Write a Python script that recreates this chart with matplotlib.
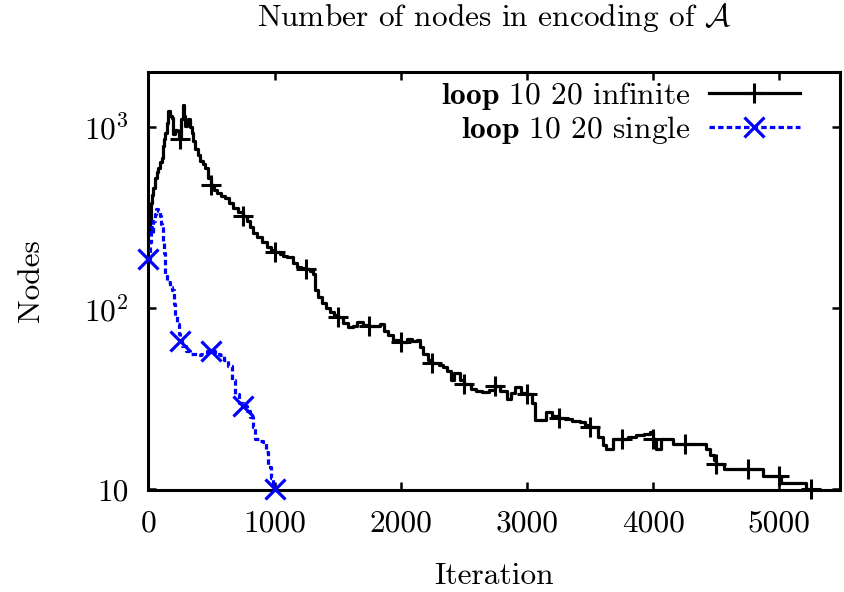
import matplotlib
matplotlib.use("Agg")
import matplotlib.pyplot as plt
import numpy as np

# ---------------- data ----------------
inf_iter = [0, 10, 20, 30, 40, 55, 65, 79, 90, 106, 115, 125, 132, 145, 158, 170, 185, 192, 198,
            210, 225, 240, 250, 260, 272, 280, 291, 305, 317, 330, 344, 355, 370, 390, 409, 430,
            449, 475, 500, 520, 541, 575, 607, 640, 673, 710, 750, 780, 805, 830, 858, 900, 937,
            970, 1000, 1040, 1069, 1100, 1122, 1150, 1175, 1210, 1250, 1280, 1307, 1320, 1345,
            1373, 1405, 1439, 1470, 1500, 1540, 1584, 1620, 1650, 1700, 1750, 1800, 1835, 1870,
            1901, 1940, 2000, 2046, 2090, 2125, 2150, 2177, 2215, 2250, 2300, 2336, 2370, 2402,
            2420, 2442, 2470, 2500, 2560, 2600, 2640, 2700, 2750, 2790, 2838, 2870, 2903, 2950,
            3000, 3040, 3062, 3120, 3154, 3200, 3250, 3300, 3360, 3418, 3460, 3500, 3560, 3600,
            3629, 3682, 3750, 3800, 3867, 3930, 3973, 4000, 4025, 4060, 4120, 4157, 4250, 4330,
            4421, 4450, 4480, 4500, 4560, 4750, 4870, 5000, 5010, 5213, 5250]
inf_nodes = [260, 300, 380, 420, 461, 520, 560, 594, 640, 674, 780, 860, 925, 1050, 1216, 1150,
             1117, 1000, 906, 960, 944, 880, 851, 1100, 1324, 1150, 1007, 1060, 1098, 1000, 925,
             830, 750, 700, 645, 620, 594, 520, 477, 450, 433, 415, 406, 380, 358, 340, 322, 300,
             278, 260, 245, 230, 216, 208, 203, 198, 194, 192, 190, 178, 168, 166, 164, 160, 154,
             125, 115, 106, 100, 94.8, 91, 89, 83, 78.4, 80, 83.6, 81, 80, 80, 81.8, 75, 70.6,
             67, 65, 67.7, 66, 66.3, 61, 55.9, 52, 50, 48.5, 47.3, 45, 40, 43.6, 43.6, 40, 38,
             36, 35, 34.5, 35.5, 37, 35, 31.7, 34, 36.7, 34, 33.8, 30, 24.1, 24.1, 26.8, 25.5,
             24.9, 24.5, 24, 23.6, 22.8, 22, 19.5, 17.5, 16.8, 18.9, 18.9, 19.5, 19.9, 20.3,
             20.8, 18.9, 16.8, 18.9, 18.9, 17.9, 17.9, 17.9, 16.8, 15.5, 14.5, 13.9, 12.9, 12.9,
             11.9, 11.9, 10.8, 10, 10]

single_iter = [0, 10, 20, 30, 40, 50, 61, 75, 90, 100, 106, 115, 119, 125, 132, 150, 170, 185,
               200, 215, 225, 240, 250, 270, 300, 330, 383, 420, 462, 500, 530, 567, 600, 633,
               660, 686, 720, 750, 780, 805, 830, 845, 880, 911, 930, 950, 970, 990, 1000]
single_nodes = [187, 230, 280, 260, 300, 330, 352, 343, 320, 290, 284, 256, 235, 200, 154, 140,
                130, 125, 105, 90, 82, 72, 66, 62, 58, 56, 55, 56, 58, 57.7, 56, 55, 52, 48, 40,
                33.8, 30, 28.9, 27, 25.1, 22, 19.1, 18.5, 18.3, 16, 13.3, 11.5, 10.2, 10]

series_labels = [r"$\mathbf{loop}$ 10 20 infinite", r"$\mathbf{loop}$ 10 20 single"]
x_ticks = [0, 1000, 2000, 3000, 4000, 5000]
y_ticks = [10, 100, 1000]
y_tick_labels = ["10", r"$10^2$", r"$10^3$"]
title = r"Number of nodes in encoding of $\mathcal{A}$"
x_title = "Iteration"
y_title = "Nodes"
marker_step = 250

# ---------------- style ----------------
FS = 22.6
plt.rcParams["font.family"] = ["cmr10", "DejaVu Serif"]
plt.rcParams["mathtext.fontset"] = "cm"
plt.rcParams["axes.unicode_minus"] = False
plt.rcParams["font.size"] = FS

W, H = 844, 592
fig = plt.figure(figsize=(W / 100, H / 100), dpi=100)
L, R, T, B = 148.3, 840.0, 72.0, 489.5
ax = fig.add_axes([L / W, 1 - B / H, (R - L) / W, (B - T) / H])

inf_marks = [i for i, x in enumerate(inf_iter) if x % marker_step == 0 and x > 0]
single_marks = [i for i, x in enumerate(single_iter) if x % marker_step == 0]

ax.plot(inf_iter, inf_nodes, drawstyle="steps-post", color="black", lw=2.3,
        marker="+", markersize=15, markeredgewidth=2.2, markevery=inf_marks,
        label=series_labels[0], clip_on=False, zorder=3)
ax.plot(single_iter, single_nodes, drawstyle="steps-post", color="#0000ff", lw=2.3,
        linestyle=(0, (1.7, 1.0)),
        marker="x", markersize=14.5, markeredgewidth=2.3, markevery=single_marks,
        label=series_labels[1], clip_on=False, zorder=3)

ax.set_yscale("log")
ax.set_xlim(0, 5480)
ax.set_ylim(10, 2000)
ax.set_xticks(x_ticks)
ax.set_xticklabels([str(v) for v in x_ticks])
ax.set_yticks(y_ticks)
ax.set_yticklabels(y_tick_labels)
ax.yaxis.set_minor_locator(matplotlib.ticker.NullLocator())
ax.xaxis.set_minor_locator(matplotlib.ticker.NullLocator())

for s in ax.spines.values():
    s.set_linewidth(2.2)
ax.tick_params(which="major", direction="in", length=6, width=1.8,
               top=True, right=True, labelsize=FS)
ax.tick_params(axis="x", pad=15)
ax.tick_params(axis="y", pad=14)

ax.set_title(title, fontsize=FS, pad=33)
ax.set_xlabel(x_title, fontsize=FS)
ax.xaxis.set_label_coords(0.5, -(563 - B) / (B - T))
ax.xaxis.label.set_va("top")
ax.set_ylabel(y_title, fontsize=FS)
ax.yaxis.set_label_coords(-(L - 31) / (R - L), 0.5)
ax.yaxis.label.set_va("center")

leg = ax.legend(loc="upper right", bbox_to_anchor=((800 - L) / (R - L), (B - 80) / (B - T)),
                borderaxespad=0, frameon=False, markerfirst=False, handlelength=2.9,
                handletextpad=0.6, labelspacing=0.05, fontsize=FS, borderpad=0)

fig.savefig("out.png", dpi=100)
